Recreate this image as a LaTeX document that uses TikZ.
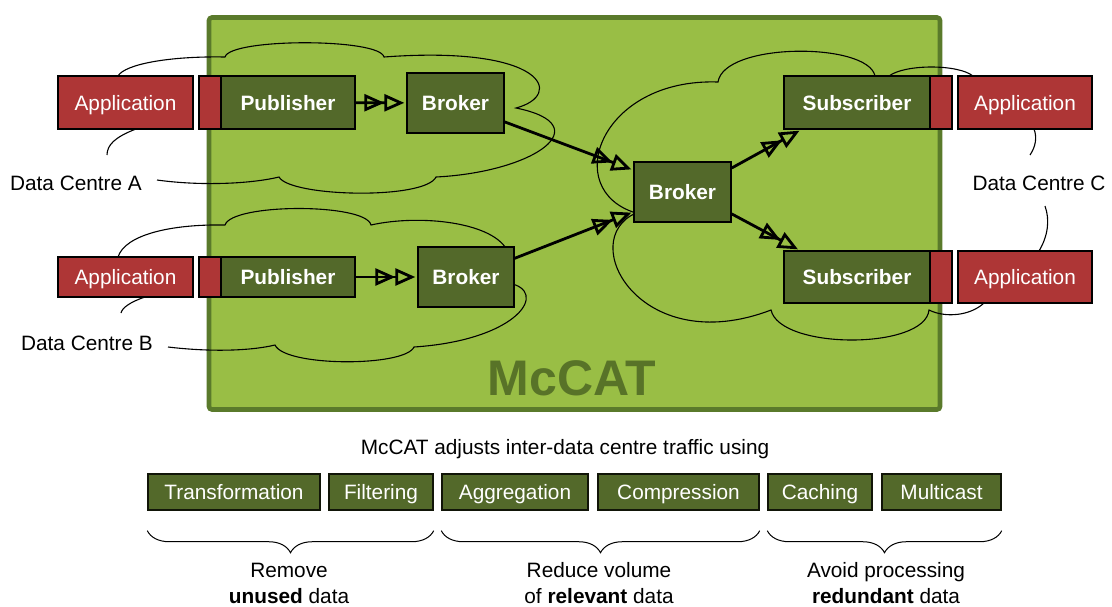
\documentclass[tikz,border=0pt]{standalone}
\usepackage{fontspec}
\setmainfont{Liberation Sans}
\usetikzlibrary{arrows.meta,decorations.pathreplacing}
\definecolor{bigfill}{HTML}{99BE45}
\definecolor{bigborder}{HTML}{5A7A2B}
\definecolor{dkgreen}{HTML}{53692A}
\definecolor{appred}{HTML}{AE3636}
\definecolor{mctext}{HTML}{587328}
\begin{document}
\begin{tikzpicture}[x=0.5pt,y=-0.5pt,
  base/.style={inner sep=0pt, line width=0.7pt, draw=black, text=white,
    text height=7.5pt, text depth=0pt},
  gbox/.style={base, fill=dkgreen, font=\bfseries\fontsize{10.4}{12}\selectfont},
  rbox/.style={base, fill=appred, font=\fontsize{10.4}{12}\selectfont},
  tbox/.style={base, fill=dkgreen, draw=black!80!dkgreen, minimum height=18pt,
    font=\fontsize{10.4}{12}\selectfont},
  lbl/.style={inner sep=0pt, font=\fontsize{10.4}{12}\selectfont, text height=7.5pt, text depth=2.2pt},
  cloudline/.style={draw=black, line width=0.55pt},
  flow/.style={line width=1.4pt, shorten >=1pt,
    -{Triangle[open,length=10pt,width=8.5pt]Triangle[open,length=10pt,width=8.5pt]}},
  brc/.style={decorate, decoration={brace, mirror, amplitude=11pt}, line width=0.5pt}
]
\useasboundingbox (0,0) rectangle (1112,606);

% main McCAT area
\draw[line width=2.3pt, draw=bigborder, fill=bigfill, rounded corners=1.5pt] (209,17.5) rectangle (940,409.5);
\node[font=\bfseries\fontsize{25}{30}\selectfont, text=mctext] (mccat) at (572,378) {McCAT};

% clouds
\draw[cloudline] (157,180) .. controls (200,186) and (250,184) .. (279,177)
 .. controls (290,197) and (425,200) .. (436,177)
 .. controls (535,172) and (600,125) .. (516,108)
 .. controls (565,95) and (545,45) .. (384,57)
 .. controls (380,38) and (230,38) .. (225,57)
 .. controls (170,56) and (125,64) .. (118,76)
 -- (136,129)
 .. controls (115,137) and (107,145) .. (107,155);

\draw[cloudline] (168,347) .. controls (210,352) and (250,351) .. (275,345)
 .. controls (285,367) and (405,367) .. (414,347)
 .. controls (520,340) and (550,290) .. (508,283)
 -- (508,252)
 .. controls (495,222) and (420,214) .. (371,225)
 .. controls (366,203) and (232,203) .. (225,225)
 .. controls (170,224) and (125,235) .. (118,257)
 -- (145,297)
 .. controls (130,302) and (122,308) .. (121,313);

\draw[cloudline] (1030,155) .. controls (1036,146) and (1037,137) .. (1034,129)
 -- (1000,100) -- (973,76)
 .. controls (958,64) and (905,64) .. (889,76)
 -- (882,90) -- (875,76)
 .. controls (868,42) and (724,42) .. (718,82)
 .. controls (600,78) and (560,190) .. (636,213)
 .. controls (575,240) and (640,360) .. (771,310)
 .. controls (780,350) and (925,350) .. (929,310)
 .. controls (945,318) and (970,316) .. (984,303)
 -- (1000,280) -- (1039,251)
 .. controls (1048,236) and (1050,220) .. (1045,206);

% data centre A
\node[rbox, minimum width=67.5pt, minimum height=26.5pt] (appA) at (125.5,102.5) {Application};
\node[rbox, minimum width=11pt, minimum height=26.5pt] (plugA) at (210,102.5) {};
\node[gbox, minimum width=67pt, minimum height=26.5pt] (pubA) at (288,102.5) {Publisher};
\node[gbox, minimum width=48.5pt, minimum height=30pt] (brokerA) at (455.5,103) {Broker};
\node[lbl] (dcA) at (76,185) {Data Centre A};

% data centre B
\node[rbox, minimum width=67.5pt, minimum height=20pt] (appB) at (125.5,277) {Application};
\node[rbox, minimum width=11pt, minimum height=20pt] (plugB) at (210,277) {};
\node[gbox, minimum width=67pt, minimum height=20pt] (pubB) at (288,277) {Publisher};
\node[gbox, minimum width=48pt, minimum height=30pt] (brokerB) at (466,277) {Broker};
\node[lbl] (dcB) at (87,345) {Data Centre B};

% data centre C
\node[gbox, minimum width=48.5pt, minimum height=30pt] (broker) at (682.5,192) {Broker};
\node[gbox, minimum width=73pt, minimum height=26.5pt] (subA) at (857,102.5) {Subscriber};
\node[rbox, minimum width=11pt, minimum height=26.5pt] (plugC1) at (941,102.5) {};
\node[rbox, minimum width=67pt, minimum height=26.5pt] (appC1) at (1025,102.5) {Application};
\node[gbox, minimum width=73pt, minimum height=26pt] (subB) at (857,277) {Subscriber};
\node[rbox, minimum width=11pt, minimum height=26pt] (plugC2) at (941,277) {};
\node[rbox, minimum width=67pt, minimum height=26pt] (appC2) at (1025,277) {Application};
\node[lbl] (dcC) at (1039,185) {Data Centre C};

% flows
\draw[flow] (pubA) -- (brokerA);
\draw[flow] (pubB) -- (brokerB);
\draw[flow] (brokerA.-21) -- (broker.156);
\draw[flow] (brokerB.21) -- (broker.202);
\draw[flow] (broker.26) -- (subA.206);
\draw[flow] (broker.-24) -- (subB.155);

% bottom legend
\node[lbl] (title) at (565,449) {McCAT adjusts inter-data centre traffic using};
\node[tbox, minimum width=86pt] (transf) at (234,492) {Transformation};
\node[tbox, minimum width=52pt] (filt) at (381,492) {Filtering};
\node[tbox, minimum width=73pt] (aggr) at (515,492) {Aggregation};
\node[tbox, minimum width=80.5pt] (compr) at (678.5,492) {Compression};
\node[tbox, minimum width=52pt] (cach) at (820,492) {Caching};
\node[tbox, minimum width=59.5pt] (mcast) at (941.5,492) {Multicast};

\draw[brc] ([yshift=-10pt]transf.south west) -- ([yshift=-10pt]filt.south east);
\draw[brc] ([yshift=-10pt]aggr.south west) -- ([yshift=-10pt]compr.south east);
\draw[brc] ([yshift=-10pt]cach.south west) -- ([yshift=-10pt]mcast.south east);

\node[lbl] (remA) at (289,572) {Remove};
\node[lbl] (remB) at (289,598) {\textbf{unused} data};
\node[lbl] (redA) at (599,572) {Reduce volume};
\node[lbl] (redB) at (599,598) {of \textbf{relevant} data};
\node[lbl] (avA) at (886,572) {Avoid processing};
\node[lbl] (avB) at (886,598) {\textbf{redundant} data};
\end{tikzpicture}
\end{document}
